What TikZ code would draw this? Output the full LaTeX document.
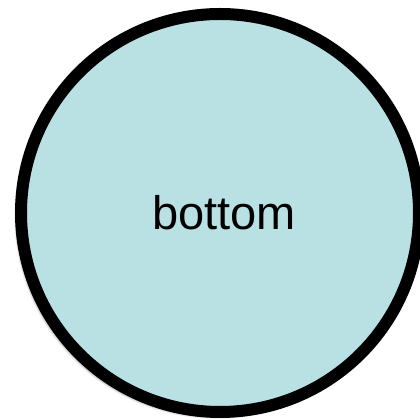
\documentclass[tikz,border=0pt]{standalone}
\usepackage{fontspec}
\setmainfont{Liberation Sans}
\usepackage{xcolor}
\usetikzlibrary{shapes.geometric,shadows.blur}
\definecolor{cFill}{HTML}{B9E0E3}
\tikzset{
  ball/.style = {circle, draw=black, fill=cFill, line width=12pt,
                 minimum size=398pt, inner sep=0pt, font=\fontsize{47}{50}\selectfont,
                 blur shadow={shadow xshift=-4pt, shadow yshift=-4pt,
                              shadow blur radius=3pt, shadow opacity=60}},
}

\begin{document}
\begin{tikzpicture}[x=1pt,y=1pt]
  \useasboundingbox (0,0) rectangle (420,420);
  \node[ball] (bottom) at (220,207) {\hspace*{8pt}bottom};
\end{tikzpicture}
\end{document}
